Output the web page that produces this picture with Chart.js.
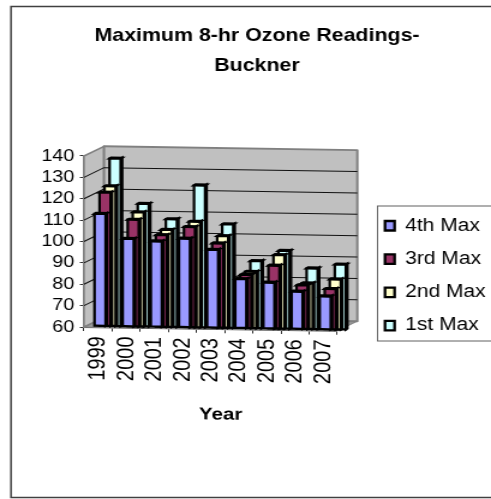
<!DOCTYPE html>
<html>
<head>
<meta charset="utf-8">
<style>
  html, body { margin: 0; padding: 0; background: #fff; overflow: hidden; }
  /* the source image is stretched sideways, so the canvas is too */
  canvas { display: block; width: 491px !important; height: 499px !important; }
</style>
<script src="https://cdn.jsdelivr.net/npm/chart.js@4"></script>
</head>
<body>
<canvas id="myChart" width="409" height="499"></canvas>
<script>
var years = ['1999', '2000', '2001', '2002', '2003', '2004', '2005', '2006', '2007'];
var max4th = [113, 101.5, 100.5, 102, 97, 83.5, 82, 78, 76];
var max3rd = [123, 110.5, 103.5, 107.5, 100, 85.5, 90, 81, 79.5];
var max2nd = [126, 114, 106, 110, 103.5, 87, 95, 82, 84];
var max1st = [139, 118, 111, 127, 109, 92, 97, 89, 91];
var yTicks = [60, 70, 80, 90, 100, 110, 120, 130, 140];

var SX = 491 / 409;
function px(x) { return x / SX; }

// the picture is a tilted excel 3d chart, everything in the plot leans by this much
var TILT = 0.0152 * SX;
var TILT_X = px(84);
var WALL_DX = px(20);
var WALL_DY = -10;

function lean(ctx) {
    ctx.transform(1, TILT, 0, 1, 0, -TILT_X * TILT);
}

class TiltedCategoryScale extends Chart.CategoryScale {
    draw(area) {
        var ctx = this.ctx;
        ctx.save();
        lean(ctx);
        super.draw(area);
        ctx.restore();
    }
    drawTitle() {
        this.ctx.save();
        this.ctx.translate(px(10), 0);
        super.drawTitle();
        this.ctx.restore();
    }
}
TiltedCategoryScale.id = 'tiltedCategory';
TiltedCategoryScale.defaults = Chart.CategoryScale.defaults;
Chart.register(TiltedCategoryScale);

function poly(ctx, pts, fill, stroke, width) {
    ctx.beginPath();
    pts.forEach(function (p, i) {
        if (i === 0) ctx.moveTo(p[0], p[1]); else ctx.lineTo(p[0], p[1]);
    });
    ctx.closePath();
    ctx.fillStyle = fill;
    ctx.fill();
    ctx.strokeStyle = stroke;
    ctx.lineWidth = width;
    ctx.stroke();
}

var frame3d = {
    id: 'frame3d',
    beforeDraw: function (chart) {
        var ctx = chart.ctx;
        ctx.save();
        ctx.strokeStyle = '#404040';
        ctx.lineWidth = 1.5;
        ctx.strokeRect(px(11), 6.5, 420, 491);
        ctx.strokeStyle = '#606060';
        ctx.lineWidth = 1;
        ctx.strokeRect(px(377.5), 206, 130, 135);
        ctx.restore();
        chart.titleBlock.left = px(23);
        chart.titleBlock.right = 409;
        chart.legend.left = px(385) - 15.8;
        chart.legend.top = 201.2;
        chart.legend.right = 409;
        chart.legend.bottom = 499;
    },
    beforeDatasetsDraw: function (chart) {
        var ctx = chart.ctx, a = chart.chartArea, y = chart.scales.y;
        var L = a.left, R = a.right, T = a.top, B = a.bottom;
        var dx = WALL_DX, dy = WALL_DY;
        ctx.save();
        lean(ctx);
        ctx.lineJoin = 'round';
        poly(ctx, [[L, B], [L + dx, B + dy], [R + dx, B + dy], [R, B]], '#9a9a9a', '#808080', 1);
        poly(ctx, [[L, B], [L + dx, B + dy], [L + dx, T + dy], [L, T]], '#c0c0c0', '#808080', 1.5);
        poly(ctx, [[L + dx, B + dy], [R + dx, B + dy], [R + dx, T + dy], [L + dx, T + dy]], '#c0c0c0', '#808080', 2);
        ctx.strokeStyle = '#111';
        ctx.lineWidth = 1;
        y.ticks.forEach(function (t) {
            if (t.value === y.min || t.value === y.max) return;
            var py = y.getPixelForValue(t.value);
            ctx.beginPath();
            ctx.moveTo(L, py);
            ctx.lineTo(L + dx, py + dy);
            ctx.lineTo(R + dx, py + dy);
            ctx.stroke();
        });
        ctx.restore();
    },
    // each bar is drawn as a small box, positions come from the bar elements
    beforeDatasetDraw: function (chart, args) {
        var ctx = chart.ctx;
        var ds = chart.data.datasets[args.index];
        var shift = px(9.5), sx = px(1.5), sy = -1;
        ctx.save();
        lean(ctx);
        ctx.lineJoin = 'miter';
        args.meta.data.forEach(function (bar) {
            var x0 = bar.x - bar.width / 2 + shift;
            var x1 = bar.x + bar.width / 2 + shift;
            var top = bar.y;
            var base = bar.base - 1;
            poly(ctx, [[x1, top], [x1 + sx, top + sy], [x1 + sx, base + sy], [x1, base]], '#000', '#000', 2.2);
            poly(ctx, [[x0, top], [x0 + sx, top + sy], [x1 + sx, top + sy], [x1, top]], '#000', '#000', 2.2);
            poly(ctx, [[x0, top], [x1, top], [x1, base], [x0, base]], ds.backgroundColor, '#000', 2.2);
        });
        ctx.restore();
        return false;
    }
};

var ctx = document.getElementById('myChart').getContext('2d');
Chart.defaults.color = '#000';
Chart.defaults.font.family = '"Liberation Sans", Arial, sans-serif';

function series(label, values, color) {
    return {
        label: label,
        data: values,
        base: yTicks[0],
        backgroundColor: color,
        borderColor: '#000',
        borderWidth: 2.3,
        categoryPercentage: 20 / 28,
        barPercentage: 2.2
    };
}

var myChart = new Chart(ctx, {
    type: 'bar',
    data: {
        labels: years,
        datasets: [
            series('4th Max', max4th, '#9999ff'),
            series('3rd Max', max3rd, '#993366'),
            series('2nd Max', max2nd, '#ffffcc'),
            series('1st Max', max1st, '#ccffff')
        ]
    },
    options: {
        responsive: false,
        animation: false,
        layout: { padding: { left: px(24), right: 41, top: 0, bottom: 70 } },
        plugins: {
            title: {
                display: true,
                text: ['Maximum 8-hr Ozone Readings-', 'Buckner'],
                font: { size: 17.8, weight: 'bold', lineHeight: 1.685 },
                color: '#000',
                padding: { top: 21, bottom: 75 }
            },
            legend: {
                display: true,
                position: 'right',
                align: 'start',
                labels: {
                    boxWidth: 8,
                    boxHeight: 9.5,
                    padding: 15.8,
                    font: { size: 17.5 }
                }
            },
            tooltip: { enabled: false }
        },
        scales: {
            x: {
                type: 'tiltedCategory',
                grid: { drawOnChartArea: false, tickLength: 4, color: '#333' },
                border: { color: '#555' },
                ticks: { minRotation: 90, maxRotation: 90, font: { size: 20 }, padding: 5, autoSkip: false },
                title: { display: true, text: 'Year', font: { size: 17, weight: 'bold' }, padding: { top: 10, bottom: 6 } },
                afterFit: function (scale) { scale.height = 102; }
            },
            y: {
                min: 60,
                max: 140,
                afterBuildTicks: function (scale) {
                    scale.ticks = yTicks.map(function (v) { return { value: v }; });
                },
                grid: { drawOnChartArea: false, tickLength: 3.5, color: '#333' },
                border: { color: '#808080', width: 1.5 },
                ticks: { font: { size: 16.5 }, padding: 4.5, autoSkip: false },
                afterFit: function (scale) { scale.width = px(60); }
            }
        }
    },
    plugins: [frame3d]
});
</script>
</body>
</html>
